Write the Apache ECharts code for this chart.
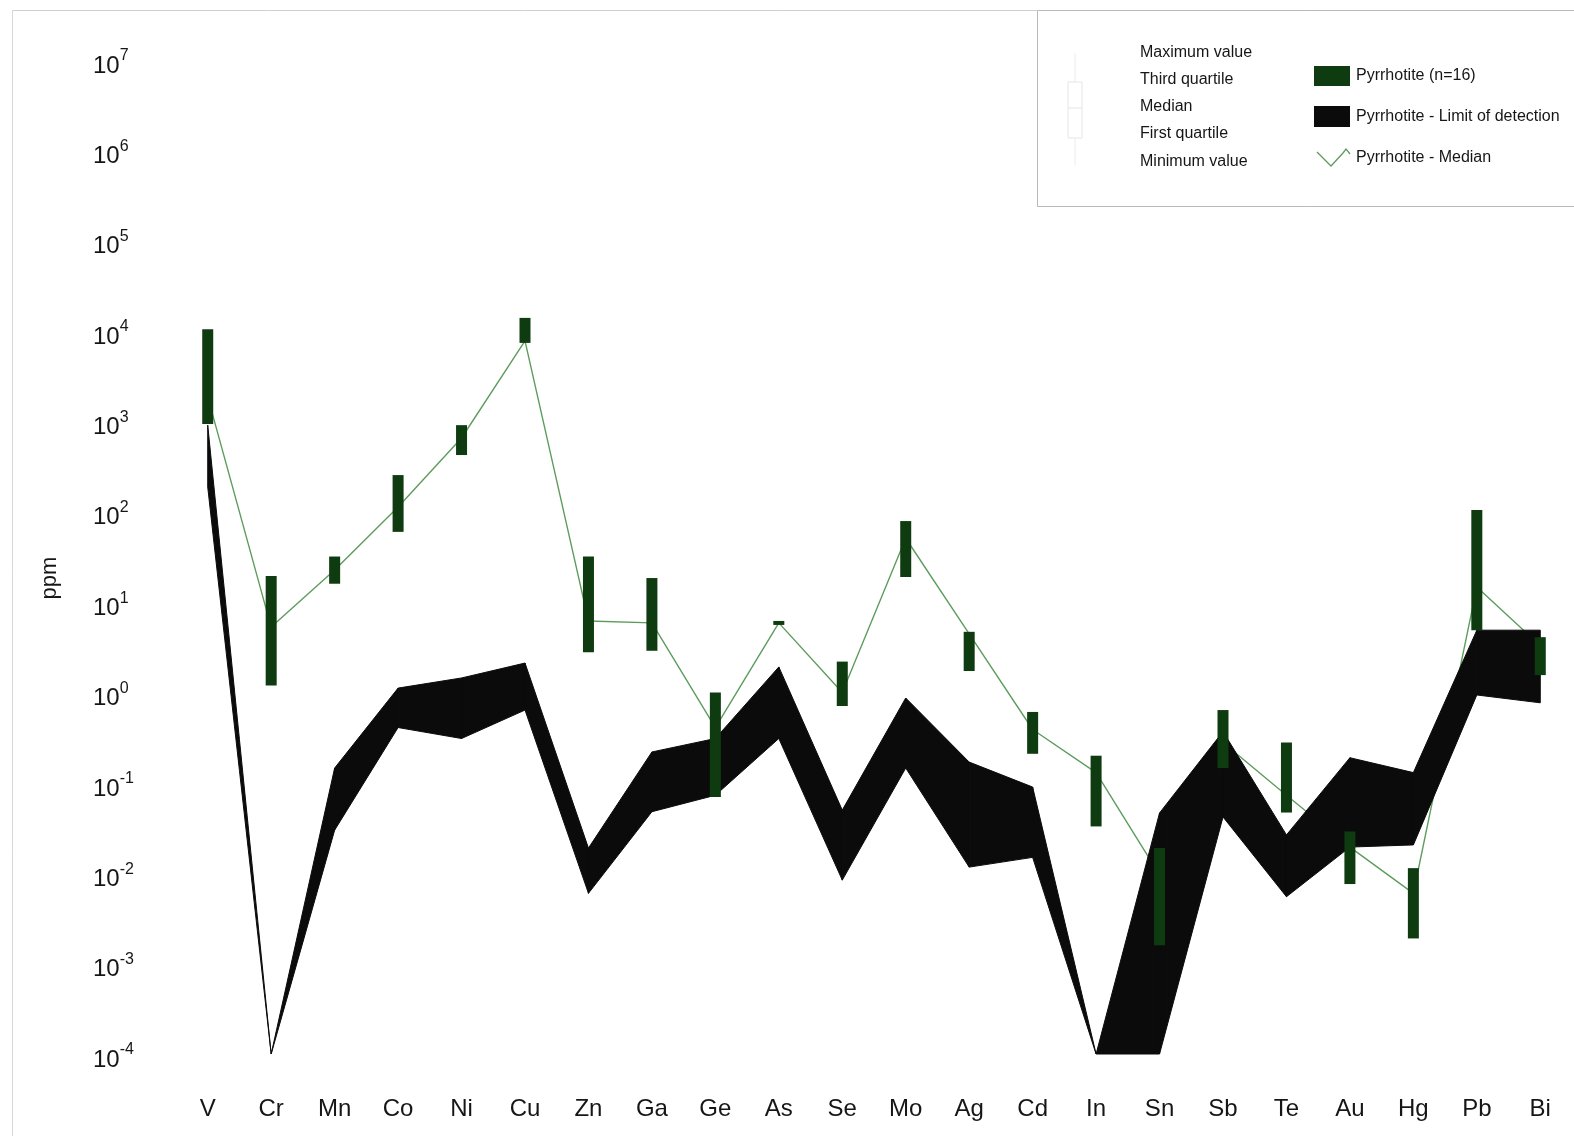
<!DOCTYPE html>
<html>
<head>
<meta charset="utf-8">
<script src="https://cdn.jsdelivr.net/npm/echarts@6/dist/echarts.min.js"></script>
<style>
  html, body { margin: 0; padding: 0; background: #ffffff; }
  #chart { width: 1574px; height: 1136px; }
</style>
</head>
<body>
<div id="chart"></div>
<script>
// ---- data (ppm) ----
const categories = ['V','Cr','Mn','Co','Ni','Cu','Zn','Ga','Ge','As','Se','Mo','Ag','Cd','In','Sn','Sb','Te','Au','Hg','Pb','Bi'];
// Pyrrhotite (n=16): first quartile, third quartile, median
const q1 = [940, 1.2, 16, 60, 425, 7400, 2.8, 2.9, 0.07, 5.6, 0.71, 19, 1.73, 0.21, 0.033, 0.0016, 0.146, 0.047, 0.0076, 0.0019, 4.9, 1.56];
const q3 = [10500, 19.5, 32, 255, 910, 14000, 32, 18.5, 1.0, 6.2, 2.2, 79, 4.7, 0.61, 0.2, 0.019, 0.64, 0.28, 0.029, 0.0114, 105, 4.1];
const median = [1870, 5.3, 22.7, 113, 656, 7800, 6.2, 5.9, 0.41, 5.9, 1.0, 51, 4.45, 0.39, 0.13, 0.0096, 0.28, 0.073, 0.0195, 0.006, 14.7, 3.3];
// Pyrrhotite - limit of detection band
const lodUpper = [910, 0.0001, 0.146, 1.12, 1.45, 2.12, 0.019, 0.22, 0.31, 1.92, 0.05, 0.87, 0.17, 0.09, 0.0001, 0.0465, 0.37, 0.0266, 0.19, 0.13, 4.9, 4.9];
const lodLower = [188, 0.0001, 0.030, 0.41, 0.31, 0.64, 0.006, 0.048, 0.073, 0.31, 0.0084, 0.146, 0.0117, 0.015, 0.0001, 0.0001, 0.042, 0.0055, 0.0195, 0.0206, 0.94, 0.77];
// y axis decades (exponents of 10)
const yMinExp = -4;
const yMaxExp = 7;
// legend texts
const boxLegendLabels = ['Maximum value', 'Third quartile', 'Median', 'First quartile', 'Minimum value'];
const seriesLegendLabels = ['Pyrrhotite (n=16)', 'Pyrrhotite - Limit of detection', 'Pyrrhotite - Median'];

// ---- styling ----
const FONT = '"Liberation Sans", Arial, sans-serif';
const TEXT = '#161616';
const BOX_GREEN = '#0f3b11';
const LINE_GREEN = '#5e9c5e';
const BAND = '#0b0b0b';

const chart = echarts.init(document.getElementById('chart'), null, { renderer: 'canvas' });

const boxData = categories.map((c, i) => [i, q1[i], q3[i]]);
const bandData = [];
for (let i = 0; i < categories.length - 1; i++) {
  bandData.push([i, lodUpper[i], lodLower[i], lodUpper[i + 1], lodLower[i + 1]]);
}

const legendGraphics = [];
// outer frame lines
legendGraphics.push({ type: 'line', shape: { x1: 12.5, y1: 10.5, x2: 1037, y2: 10.5 }, style: { stroke: '#cfcfcf', lineWidth: 1 }, silent: true });
legendGraphics.push({ type: 'line', shape: { x1: 12.5, y1: 10.5, x2: 12.5, y2: 1136 }, style: { stroke: '#d6d6d6', lineWidth: 1 }, silent: true });
// legend box
legendGraphics.push({ type: 'rect', shape: { x: 1037.5, y: 10.5, width: 560, height: 196 }, style: { fill: '#ffffff', stroke: '#b9b9b9', lineWidth: 1 }, silent: true, z: 10 });
// faint boxplot glyph
legendGraphics.push({ type: 'line', shape: { x1: 1075, y1: 53, x2: 1075, y2: 165 }, style: { stroke: '#ececec', lineWidth: 1 }, z: 11, silent: true });
legendGraphics.push({ type: 'rect', shape: { x: 1068, y: 82, width: 14, height: 56 }, style: { fill: '#ffffff', stroke: '#e6e6e6', lineWidth: 1 }, z: 11, silent: true });
legendGraphics.push({ type: 'line', shape: { x1: 1068, y1: 108, x2: 1082, y2: 108 }, style: { stroke: '#e6e6e6', lineWidth: 1 }, z: 11, silent: true });
const boxLegendY = [53, 80, 107, 134, 162];
boxLegendLabels.forEach((t, k) => {
  legendGraphics.push({ type: 'text', x: 1140, y: boxLegendY[k], z: 12, silent: true,
    style: { text: t, font: '16px ' + FONT, fill: TEXT, textVerticalAlign: 'middle', textAlign: 'left' } });
});
legendGraphics.push({ type: 'rect', shape: { x: 1314, y: 66, width: 36, height: 20 }, style: { fill: BOX_GREEN }, z: 12, silent: true });
legendGraphics.push({ type: 'rect', shape: { x: 1314, y: 106, width: 36, height: 21 }, style: { fill: BAND }, z: 12, silent: true });
legendGraphics.push({ type: 'polyline', shape: { points: [[1317, 152], [1331, 166], [1343, 153], [1346, 149], [1350, 154]] }, style: { stroke: LINE_GREEN, lineWidth: 1.3, fill: null }, z: 12, silent: true });
const seriesLegendY = [76, 117, 158];
seriesLegendLabels.forEach((t, k) => {
  legendGraphics.push({ type: 'text', x: 1356, y: seriesLegendY[k], z: 12, silent: true,
    style: { text: t, font: '16px ' + FONT, fill: TEXT, textVerticalAlign: 'middle', textAlign: 'left' } });
});
// y axis title
legendGraphics.push({ type: 'text', x: 50, y: 578, rotation: Math.PI / 2, silent: true,
  style: { text: 'ppm', font: '22px ' + FONT, fill: TEXT, textAlign: 'center', textVerticalAlign: 'middle' } });

const option = {
  animation: false,
  backgroundColor: '#ffffff',
  grid: { left: 176, right: 2, top: 60, bottom: 82, containLabel: false },
  xAxis: {
    type: 'category',
    data: categories,
    boundaryGap: true,
    axisLine: { show: false },
    axisTick: { show: false },
    splitLine: { show: false },
    axisLabel: { fontFamily: FONT, fontSize: 24, color: TEXT, margin: 43, interval: 0 }
  },
  yAxis: {
    type: 'log',
    logBase: 10,
    min: Math.pow(10, yMinExp),
    max: Math.pow(10, yMaxExp),
    interval: 1,
    axisLine: { show: false },
    axisTick: { show: false },
    splitLine: { show: false },
    axisLabel: {
      align: 'left',
      margin: 83,
      formatter: function (v) {
        const e = Math.round(Math.log10(v));
        return '{b|10}{s|' + e + '}';
      },
      rich: {
        b: { fontFamily: FONT, fontSize: 24, color: TEXT, lineHeight: 24, padding: [12, 0, 0, 0] },
        s: { fontFamily: FONT, fontSize: 16, color: TEXT, lineHeight: 16, verticalAlign: 'top' }
      }
    }
  },
  graphic: legendGraphics,
  series: [
    {
      name: 'Pyrrhotite - Median',
      type: 'line',
      data: median,
      symbol: 'none',
      z: 1,
      lineStyle: { color: LINE_GREEN, width: 1.4 },
      itemStyle: { color: LINE_GREEN }
    },
    {
      name: 'Pyrrhotite - Limit of detection',
      type: 'custom',
      z: 2,
      data: bandData,
      encode: { x: 0, y: [1, 2, 3, 4] },
      renderItem: function (params, api) {
        const i = api.value(0);
        const a = api.coord([i, api.value(1)]);
        const b = api.coord([i + 1, api.value(3)]);
        const c = api.coord([i + 1, api.value(4)]);
        const d = api.coord([i, api.value(2)]);
        return {
          type: 'polygon',
          shape: { points: [a, b, c, d] },
          style: { fill: BAND, stroke: BAND, lineWidth: 1, lineJoin: 'round' }
        };
      }
    },
    {
      name: 'Pyrrhotite (n=16)',
      type: 'custom',
      z: 3,
      data: boxData,
      encode: { x: 0, y: [1, 2] },
      renderItem: function (params, api) {
        const i = api.value(0);
        const top = api.coord([i, api.value(2)]);
        const bot = api.coord([i, api.value(1)]);
        return {
          type: 'rect',
          shape: { x: top[0] - 5.5, y: top[1], width: 11, height: Math.max(2, bot[1] - top[1]) },
          style: { fill: BOX_GREEN }
        };
      }
    }
  ]
};
chart.setOption(option);
</script>
</body>
</html>
